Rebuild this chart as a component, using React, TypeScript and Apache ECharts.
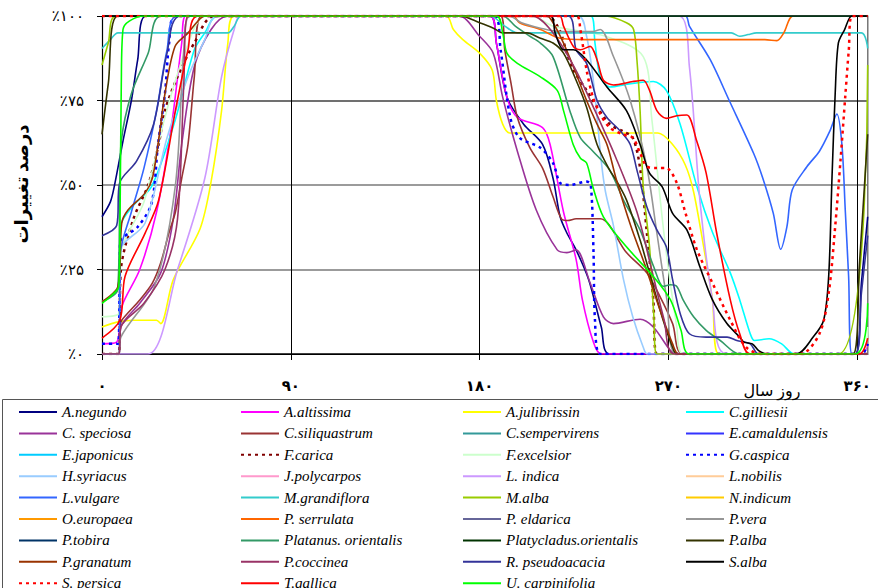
import React, { useEffect, useRef } from 'react';
import * as echarts from 'echarts';

// ---------- categories / labels ----------
const speciesNames = [
  'A.negundo', 'A.altissima', 'A.julibrissin', 'C.gilliesii',
  'C. speciosa', 'C.siliquastrum', 'C.sempervirens', 'E.camaldulensis',
  'E.japonicus', 'F.carica', 'F.excelsior', 'G.caspica',
  'H.syriacus', 'J.polycarpos', 'L. indica', 'L.nobilis',
  'L.vulgare', 'M.grandiflora', 'M.alba', 'N.indicum',
  'O.europaea', 'P. serrulata', 'P. eldarica', 'P.vera',
  'P.tobira', 'Platanus. orientalis', 'Platycladus.orientalis', 'P.alba',
  'P.granatum', 'P.coccinea', 'R. pseudoacacia', 'S.alba',
  'S. persica', 'T.gallica', 'U. carpinifolia',
];
const speciesColors = [
  '#000080', '#FF00FF', '#FFFF00', '#00FFFF',
  '#993399', '#993333', '#339999', '#3333FF',
  '#00CCFF', '#800000', '#CCFFCC', '#0000FF',
  '#99CCFF', '#FF99CC', '#CC99FF', '#FFCC99',
  '#3366FF', '#33CCCC', '#99CC00', '#FFCC00',
  '#FF9900', '#FF6600', '#666699', '#969696',
  '#003366', '#339966', '#003300', '#333300',
  '#993300', '#993366', '#333399', '#000000',
  '#FF0000', '#FF0000', '#00FF00',
];
const dottedSpecies = ['F.carica', 'G.caspica', 'S. persica'];

const xTickLabels = ['۰', '۹۰', '۱۸۰', '۲۷۰', '۳۶۰'];
const yTickLabels = ['٪۰', '٪۲۵', '٪۵۰', '٪۷۵', '٪۱۰۰'];
const xAxisTitle = 'روز سال';
const yAxisTitle = 'درصد تغییرات';

// ---------- series values: [day of year, percent] ----------
const aNegundo = [[0, 40.6], [4, 45], [6, 50], [10, 63], [14, 75], [17, 87], [21, 100], [185, 100], [188, 92], [193, 76], [201, 68], [210, 62], [215, 52], [218.4, 40.6], [221.6, 35.8], [226, 30.8], [232, 22], [238, 8], [242, 0], [359, 0], [362, 21], [365, 40.6]];
const aAltissima = [[0, 3], [7, 3.5], [9.4, 14], [18, 25], [26, 42], [33, 67], [38, 92], [40, 100], [185, 100], [188, 92], [193, 76], [198, 70], [210, 67], [213.6, 62], [220, 42], [226, 28], [229, 16], [234, 4], [238, 0], [362, 0], [365, 3]];
const aJulibrissin = [[0, 8], [7.6, 9.5], [15, 10], [26, 10], [28, 9], [34, 22], [46.7, 37], [52, 51], [57, 72], [60, 92], [63, 100], [164, 100], [167.5, 96], [172, 93], [180, 89], [186, 84], [188, 75], [191, 68], [194.3, 65.4], [265, 65.4], [272, 62], [278, 56], [282, 48], [287, 31], [291, 16], [294, 0], [365, 0]];
const cGilliesii = [[0, 0], [8, 0], [9, 38], [15, 44], [23.6, 49.5], [34.8, 69], [44, 90], [49, 95], [55, 100], [233, 100], [235, 92], [237.5, 82], [242, 79], [252, 80], [262.8, 80.6], [269, 78], [275.6, 68], [283.6, 49.5], [291, 36], [299.5, 24], [304, 16], [309, 6], [311, 4], [318, 4.5], [324, 3], [330, 0], [365, 0]];
const cSpeciosa = [[0, 0], [8, 0], [9, 8], [18, 15], [28, 24], [34, 40], [38, 62], [44, 85], [52, 96], [60, 100], [170, 100], [180, 94], [186.5, 89], [191, 76], [198, 60], [207, 42.6], [217, 30.8], [221.6, 30], [226, 30.8], [232.7, 21], [239, 11], [243.8, 9], [256.5, 10.3], [262.8, 8], [271, 1], [274, 0], [365, 0]];
const cSiliquastrum = [[0, 0], [7.8, 0], [8.6, 8], [9.4, 10], [18, 16], [24, 21], [28, 27], [32, 36], [35, 42], [38, 52], [41, 62], [44, 82], [47.5, 100], [190, 100], [192, 90], [195, 80], [198, 70], [204, 61], [210, 55], [215, 46.5], [219, 40], [222, 39.5], [226, 40], [237.5, 40], [250, 30], [259.7, 24], [266, 17], [272, 9], [277, 0], [365, 0]];
const cSempervirens = [[0, 100], [365, 100]];
const eCamaldulensis = [[0, 100], [365, 100]];
const eJaponicus = [[0, 100], [365, 100]];
const fCarica = [[0, 0], [8, 0], [9, 25], [15, 40], [22, 50], [27, 62], [30, 72], [36, 82], [44, 92], [53.7, 100], [212, 100], [218, 96], [221.6, 89], [224.7, 84], [231, 78], [234, 75], [242, 68], [248, 66], [253, 64], [256.5, 55], [259.7, 36], [262.8, 16], [264.5, 0], [365, 0]];
const fExcelsior = [[0, 11], [8, 12], [9, 30], [20, 45], [30, 70], [40, 90], [50, 100], [205, 100], [215, 97], [240, 94], [258, 88], [262, 70], [268, 35], [274, 8], [277, 0], [362, 0], [365, 8]];
const gCaspica = [[0, 3], [7.6, 3], [8.2, 10], [8.6, 33], [17, 37.6], [23.6, 44.5], [26.7, 62], [30, 77], [32, 92], [35, 100], [187, 100], [190, 90], [194.6, 70], [199, 64], [209, 61], [215, 56.5], [218.4, 50.6], [223, 50], [231, 51], [233, 50], [234.3, 30], [235, 10], [237.5, 0], [362, 0], [365, 3]];
const hSyriacus = [[0, 15.5], [7.6, 19], [8.6, 31], [20.5, 38.7], [31, 64], [41, 82], [49, 93], [55, 100], [227, 100], [231, 94], [234, 82], [236, 70], [238, 57], [240, 48], [243.8, 38], [248.6, 22], [253, 11], [258, 2], [260, 0], [365, 0]];
const jPolycarpos = [[0, 100], [365, 100]];
const lIndica = [[0, 0], [22, 0], [36, 25], [49, 52], [57, 82], [63, 96], [66, 100], [275, 100], [280, 85], [285, 45.6], [291, 16], [297.6, 0], [365, 0]];
const lNobilis = [[0, 100], [365, 100]];
const lVulgare = [[0, 0], [8, 0], [8.8, 30], [14, 42], [20, 55], [26, 72], [31, 90], [36, 100], [278, 100], [280, 97], [290, 87], [299, 75], [310.6, 59.4], [315, 52], [320, 41.6], [323.5, 31], [326.5, 37.7], [329, 48.5], [336, 55.4], [342, 60], [347, 66], [350.3, 71], [352.7, 62], [354.3, 42.6], [355.9, 23], [357.5, 0], [365, 0]];
const mGrandiflora = [[0, 90.4], [4, 93], [7.6, 95], [60, 95], [63, 97], [66.4, 100], [185, 100], [192, 97], [198, 95], [300, 95], [304, 94], [308, 94.5], [312, 95], [362, 95], [365, 90.4]];
const mAlba = [[0, 85.5], [3, 92], [6.8, 100], [240, 100], [250, 98], [253.4, 96], [255, 87], [256.5, 72], [258, 49.5], [261, 31.7], [263, 12], [264.5, 0], [351, 0], [365, 85.5]];
const nIndicum = [[0, 100], [365, 100]];
const oEuropaea = [[0, 100], [365, 100]];
const pSerrulata = [[0, 100], [196, 100], [199, 98], [209, 96], [218.4, 93.4], [230, 93], [316, 93], [321.7, 92.7], [325, 95], [329.6, 100], [365, 100]];
const pEldarica = [[0, 100], [365, 100]];
const pVera = [[0, 0], [8, 0], [9, 5], [25, 20], [35, 50], [39, 90], [42, 100], [194, 100], [200, 98], [209, 96.4], [218, 95.4], [234, 95.4], [237.5, 96], [243.8, 88], [251.8, 75], [259.7, 55.4], [264.5, 35.8], [269.3, 16], [274, 0], [365, 0]];
const pTobira = [[0, 100], [365, 100]];
const platanusOrientalis = [[0, 15.5], [7.5, 19], [8.5, 50], [9.2, 63], [14, 77], [22, 89], [28.3, 100], [191, 100], [197, 97], [204, 94], [209, 92], [215, 88], [223, 72], [228, 64], [234, 60], [242, 54.4], [249, 45], [256.5, 36.7], [263, 25.8], [267.5, 20], [271, 20.5], [274, 20], [277, 16], [282, 11], [288, 7], [294.7, 4], [304, 0], [365, 0]];
const platycladusOrientalis = [[0, 100], [365, 100]];
const pAlba = [[0, 65], [3, 80], [7.6, 100], [170.7, 100], [180, 98], [186.6, 96.4], [191, 95], [202.5, 95], [209, 93.4], [215, 92], [220, 89], [226, 81], [231, 73], [236, 62], [242, 54.4], [245, 51.5], [250, 45.6], [256.5, 33.7], [261, 24], [267.5, 10], [272, 2], [274, 0], [358, 0], [361, 26], [365, 65]];
const pGranatum = [[0, 15.5], [7.6, 20], [9.4, 38.7], [12.4, 42.6], [20.5, 47.6], [24, 52], [26.7, 62], [30, 77], [34.8, 91], [41, 95], [45, 98], [49, 100], [212, 100], [215, 98], [220, 92], [224.7, 85], [231, 75], [236, 68], [240.7, 62], [245, 52], [252, 38], [259, 26], [266, 13], [272, 3], [275, 0], [365, 0]];
const pCoccinea = [[0, 0], [8, 0], [9, 8], [20, 15], [30, 25], [36, 40], [39, 80], [41, 100], [205, 100], [215, 95], [225, 85], [235, 72], [245, 58], [255, 42], [262, 25], [268, 10], [273, 0], [365, 0]];
const rPseudoacacia = [[0, 35], [7, 38], [8.4, 50.6], [16.4, 57], [24.6, 68], [31, 89], [37.5, 100], [222, 100], [226, 90], [231, 86], [236, 75], [240.7, 70], [247, 66], [251.8, 62], [255, 54.4], [259.7, 43.6], [264.5, 36.7], [269, 31.7], [272, 22], [275.6, 12], [280, 6], [288, 5], [298, 5], [302.6, 4], [309, 3], [313, 0], [359, 0], [362, 18], [365, 35]];
const sAlba = [[0, 100], [213.6, 100], [216, 95], [220, 90], [224.7, 90], [231, 87], [240.7, 79], [250, 72], [256.5, 62], [261, 53.5], [267, 49.5], [272, 41.6], [278.8, 36.7], [285, 25.8], [291, 16], [297.9, 9], [304, 5], [306, 3.5], [310, 3], [313, 1], [317, 0], [331, 0], [339, 5], [344, 10], [346.4, 23], [348, 52.5], [349.5, 77], [351, 92], [354, 96], [357.5, 100], [365, 100]];
const sPersica = [[0, 100], [226, 100], [228, 96], [231, 84], [234, 76], [237.5, 71], [242, 67], [248, 65], [253, 64], [256.5, 59.5], [259.7, 55.5], [264.5, 55], [269, 55], [274, 50.6], [278, 42], [283.5, 31], [291, 21], [299.5, 10], [307, 2], [315, 0], [333, 0], [342, 6], [346.4, 18], [349.5, 37.7], [352, 57], [354.4, 77], [356, 90], [357.5, 100], [365, 100]];
const tGallica = [[0, 4.7], [8.5, 10], [11, 23], [20.5, 35.7], [27, 45.5], [35, 72], [41, 90], [45.8, 100], [218, 100], [220, 97], [224.7, 91], [228, 90], [232.7, 91], [236, 87], [239, 81], [243.8, 79.6], [253, 80.6], [258, 81], [261, 78], [264.5, 72], [269, 69.7], [274, 70.5], [278.8, 70.7], [283.5, 63], [288, 53.5], [293, 35.8], [299.5, 16], [304, 6], [309, 0], [361, 0], [365, 4.7]];
const uCarpinifolia = [[0, 15], [4, 17], [8, 20], [8.6, 40], [9.2, 80], [10, 96], [13, 98.5], [20, 100], [188, 100], [191, 95], [193, 89], [198, 86], [209, 82], [217, 78], [220, 72], [224.6, 62], [228, 58], [231, 56.5], [234, 49.4], [239, 40.6], [250, 31.7], [263, 22.8], [271, 16], [276, 7], [280, 0], [359, 0], [365, 15]];

const seriesValues = [
  aNegundo, aAltissima, aJulibrissin, cGilliesii,
  cSpeciosa, cSiliquastrum, cSempervirens, eCamaldulensis,
  eJaponicus, fCarica, fExcelsior, gCaspica,
  hSyriacus, jPolycarpos, lIndica, lNobilis,
  lVulgare, mGrandiflora, mAlba, nIndicum,
  oEuropaea, pSerrulata, pEldarica, pVera,
  pTobira, platanusOrientalis, platycladusOrientalis, pAlba,
  pGranatum, pCoccinea, rPseudoacacia, sAlba,
  sPersica, tGallica, uCarpinifolia,
];

const SERIF = 'Liberation Serif';
const FA = "'Liberation Serif', 'DejaVu Sans', serif";

export default function App() {
  const ref = useRef<HTMLDivElement>(null);

  useEffect(() => {
    if (!ref.current) return;
    const chart = echarts.init(ref.current, undefined, { renderer: 'svg' });

    const legendLefts = [18, 240, 462, 685];
    const legends = legendLefts.map((left, c) => ({
      orient: 'vertical',
      left,
      top: 404,
      height: 260,
      padding: 0,
      itemWidth: 38,
      itemHeight: 16,
      itemGap: 5.4,
      selectedMode: false,
      itemStyle: { color: 'rgba(0,0,0,0)', borderColor: 'rgba(0,0,0,0)', borderWidth: 0, opacity: 0 },
      data: speciesNames.filter((_, i) => i % 4 === c),
      textStyle: {
        fontFamily: SERIF,
        fontStyle: 'italic',
        fontSize: 15,
        color: '#000',
        lineHeight: 16,
      },
    }));

    const series = speciesNames.map((name, i) => {
      const dotted = dottedSpecies.includes(name);
      return {
        name,
        type: 'line',
        data: seriesValues[i],
        smooth: 0.3,
        symbol: 'none',
        showSymbol: false,
        silent: true,
        clip: true,
        lineStyle: {
          color: speciesColors[i],
          width: dotted ? 2.5 : 1.6,
          type: dotted ? [3, 4] : 'solid',
        },
        itemStyle: { color: speciesColors[i] },
        emphasis: { disabled: true },
      };
    });

    chart.setOption({
      animation: false,
      backgroundColor: '#fff',
      grid: {
        left: 102,
        right: 10.3,
        top: 16,
        bottom: 234,
        containLabel: false,
        outerBoundsMode: 'none',
      },
      xAxis: {
        type: 'value',
        min: 0,
        max: 365,
        interval: 90,
        axisLine: { show: true, lineStyle: { color: '#000', width: 1.2 } },
        axisTick: { show: true, length: 6, lineStyle: { color: '#000' } },
        axisLabel: {
          margin: 24,
          fontFamily: FA,
          fontWeight: 'bold',
          fontSize: 15,
          color: '#000',
          showMaxLabel: false,
          formatter: (v: number) => (v % 90 === 0 ? xTickLabels[v / 90] ?? '' : ''),
        },
        splitLine: { show: true, lineStyle: { color: '#000', width: 1 } },
      },
      yAxis: [
        {
          type: 'value',
          min: 0,
          max: 100,
          interval: 25,
          axisLine: { show: true, lineStyle: { color: '#000', width: 1.2 } },
          axisTick: { show: true, length: 5, lineStyle: { color: '#000' } },
          axisLabel: {
            margin: 18,
            fontFamily: FA,
            fontSize: 15,
            color: '#000',
            formatter: (v: number) => yTickLabels[v / 25] ?? '',
          },
          splitLine: {
            show: true,
            lineStyle: { color: ['#000', '#7a7a7a', '#7a7a7a', '#404040', '#000'], width: 1.5 },
          },
        },
        {
          type: 'value',
          min: 0,
          max: 100,
          position: 'right',
          axisLine: { show: true, lineStyle: { color: '#a0a0a0', width: 1.5 } },
          axisTick: { show: false },
          axisLabel: { show: false },
          splitLine: { show: false },
        },
      ],
      legend: legends,
      graphic: [
        {
          type: 'rect',
          shape: { x: 2.5, y: 399.5, width: 900, height: 220 },
          style: { fill: 'none', stroke: '#555', lineWidth: 1 },
          silent: true,
          z: -1,
        },
        {
          type: 'text',
          x: 772,
          y: 390,
          style: {
            text: xAxisTitle,
            font: `16px ${FA}`,
            fill: '#000',
            align: 'center',
            verticalAlign: 'middle',
          },
        },
        {
          type: 'text',
          x: 22,
          y: 184,
          rotation: Math.PI / 2,
          style: {
            text: yAxisTitle,
            font: `bold 18px ${FA}`,
            fill: '#000',
            align: 'center',
            verticalAlign: 'middle',
          },
        },
      ],
      series,
    });

    return () => {
      chart.dispose();
    };
  }, []);

  return (
    <div
      ref={ref}
      style={{ position: 'absolute', left: 0, top: 0, width: 878, height: 588, background: '#fff' }}
    />
  );
}
